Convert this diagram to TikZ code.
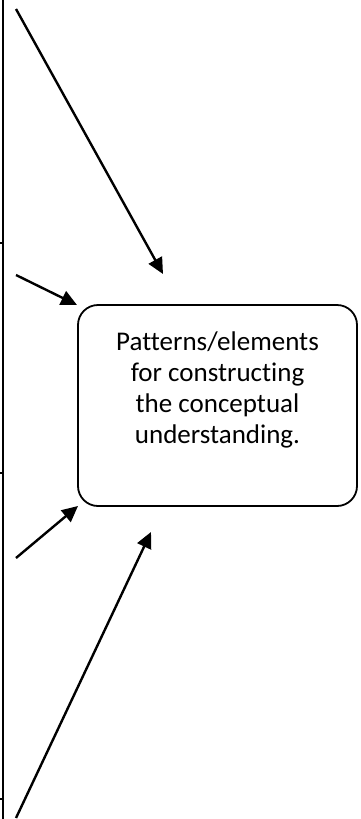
\documentclass[tikz,border=0pt]{standalone}
\usepackage{fontspec}
\setmainfont[Ligatures=NoCommon]{Carlito}
\usepackage{tikz}
\usetikzlibrary{arrows.meta}

\begin{document}
\begin{tikzpicture}[x=1pt,y=-1pt,
		pointer/.style={line width=2.4pt, -{Triangle[length=16pt,width=15pt]}},
		frame/.style={line width=2.4pt}]
		\useasboundingbox (0,0) rectangle (360,819);
		% left border with its ticks
		\coordinate (top) at (3,0);
		\coordinate (bottom) at (3,819);
		\draw[frame] (top) -- (bottom);
		\coordinate (t1) at (0,243);
		\coordinate (t2) at (0,473);
		\coordinate (t3) at (0,799);
		\draw[frame] (t1) -- ++(3,0);
		\draw[frame] (t2) -- ++(3,0);
		\draw[frame] (t3) -- ++(3,0);
		
		% the box
		\node[draw, line width=1.8pt, rounded corners=20pt, minimum width=279pt, minimum height=201pt] (box) at (217.5,405.5) {};
		\node[align=center, font=\fontsize{27}{31}\selectfont] (txt) at (217.5,390) {Patterns/elements\\for constructing\\the conceptual\\understanding.};
		
		% arrows towards the box
		\coordinate (s1) at (16,9);
		\coordinate (e1) at (163,274);
		\coordinate (s2) at (16,275);
		\coordinate (e2) at (77,305);
		\coordinate (s3) at (16,558);
		\coordinate (e3) at (78,506);
		\coordinate (s4) at (16,818);
		\coordinate (e4) at (151,532);
		\draw[pointer] (s1) -- (e1);
		\draw[pointer] (s2) -- (e2);
		\draw[pointer] (s3) -- (e3);
		\draw[pointer] (s4) -- (e4);
		
		\end{tikzpicture}
\end{document}
